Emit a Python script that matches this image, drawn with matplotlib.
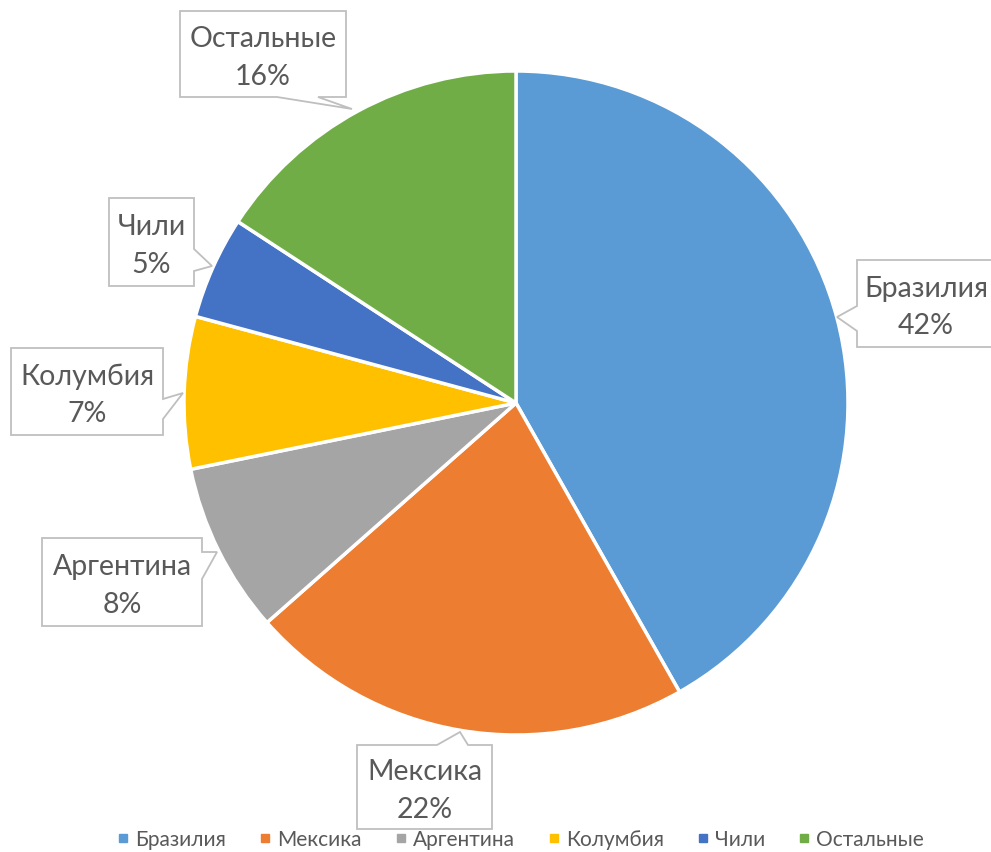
import matplotlib
matplotlib.use("Agg")
import matplotlib.pyplot as plt
from matplotlib.patches import Polygon
from matplotlib.lines import Line2D

# data
countries = ["Бразилия", "Мексика", "Аргентина", "Колумбия", "Чили", "Остальные"]
shares = [41.8, 21.7, 8.3, 7.4, 5.0, 15.8]
colors = ["#5B9BD5", "#ED7D31", "#A5A5A5", "#FFC000", "#4472C4", "#70AD47"]

# callout layout in pixel coords (y from top): box, side of pointer, pointer base, tip
callouts = {
    "Бразилия":  dict(box=(857, 261, 995, 348), side="left",   base=(307, 332), tip=(837, 318)),
    "Мексика":   dict(box=(357, 746, 492, 830), side="top",    base=(437, 468), tip=(460, 733)),
    "Аргентина": dict(box=(42, 539, 202, 627),  side="right",  base=(553, 580), tip=(217, 553)),
    "Колумбия":  dict(box=(11, 349, 163, 436),  side="right",  base=(400, 420), tip=(183, 394)),
    "Чили":      dict(box=(109, 199, 194, 287), side="right",  base=(250, 272), tip=(212, 267)),
    "Остальные": dict(box=(180, 12, 346, 98),   side="bottom", base=(277, 318), tip=(352, 110)),
}

W, H = 991, 853
fig = plt.figure(figsize=(W / 100, H / 100), dpi=100)
ax = fig.add_axes([0, 0, 1, 1])
ax.axis("off")

ax.pie(shares, colors=colors, startangle=-90, counterclock=True,
       center=(516, 404), radius=332,
       wedgeprops=dict(edgecolor="white", linewidth=2.5))
ax.set_xlim(0, W)
ax.set_ylim(H, 0)


def callout_shape(box, side, base, tip):
    x0, y0, x1, y1 = box
    a, b = base
    if side == "left":
        pts = [(x0, y0), (x1, y0), (x1, y1), (x0, y1), (x0, b), tip, (x0, a)]
    elif side == "right":
        pts = [(x0, y0), (x1, y0), (x1, a), tip, (x1, b), (x1, y1), (x0, y1)]
    elif side == "top":
        pts = [(x0, y0), (a, y0), tip, (b, y0), (x1, y0), (x1, y1), (x0, y1)]
    else:
        pts = [(x0, y0), (x1, y0), (x1, y1), (b, y1), tip, (a, y1), (x0, y1)]
    return pts


for name, pct in zip(countries, shares):
    c = callouts[name]
    ax.add_patch(Polygon(callout_shape(c["box"], c["side"], c["base"], c["tip"]),
                         closed=True, facecolor="white", edgecolor="#BFBFBF",
                         linewidth=1.3, zorder=3))
    x0, y0, x1, y1 = c["box"]
    ax.text((x0 + x1) / 2, (y0 + y1) / 2 + 3, f"{name}\n{round(pct):d}%", ha="center",
            va="center", fontsize=20.5, color="#595959", family="Lato",
            linespacing=1.55, zorder=4)

handles = [Line2D([], [], marker="s", linestyle="none", markersize=6,
                  markerfacecolor=col, markeredgecolor=col) for col in colors]
ax.legend(handles, countries, loc="center", bbox_to_anchor=(521 / W, 1 - 840 / H),
          ncol=6, frameon=False, handlelength=0.5, handletextpad=0.35,
          columnspacing=1.6, prop=dict(family="Lato", size=15),
          labelcolor="#595959", borderpad=0.1)

fig.savefig("out.png", dpi=100)
